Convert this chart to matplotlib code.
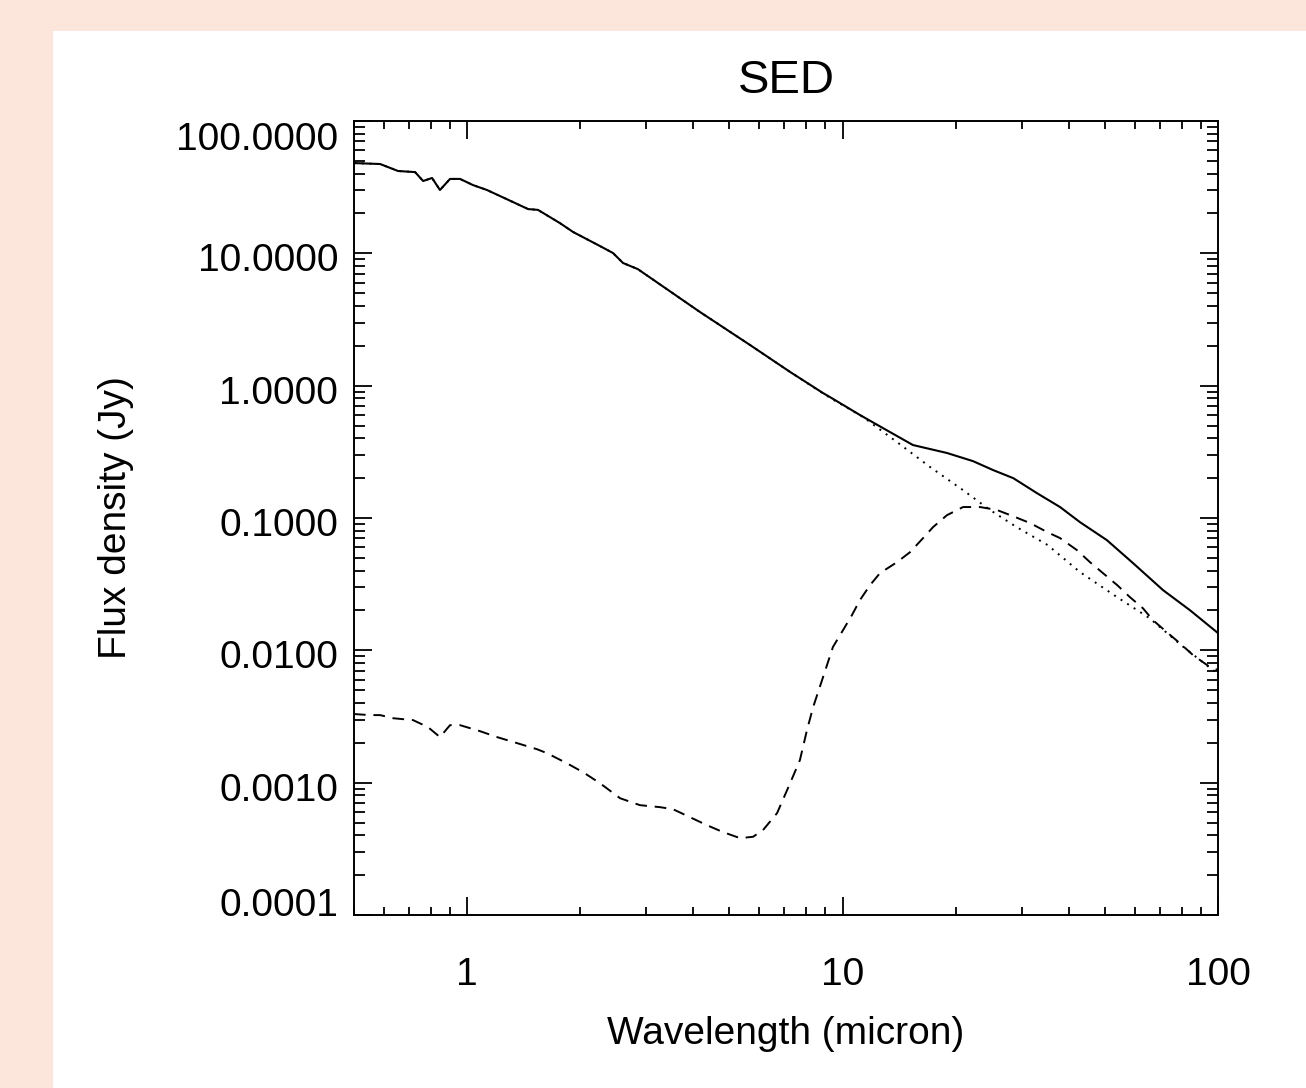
import numpy as np
import matplotlib
matplotlib.use('Agg')
import matplotlib.pyplot as plt
from matplotlib.patches import Rectangle
from matplotlib.ticker import LogLocator, NullFormatter
from matplotlib.transforms import ScaledTranslation

plt.rcParams['font.family'] = ['Liberation Sans', 'DejaVu Sans']

# total SED (solid)
total_wl = [0.50, 0.587, 0.655, 0.727, 0.764, 0.807, 0.847, 0.901, 0.958, 1.037,
            1.13, 1.326, 1.454, 1.545, 1.769, 1.916, 2.26, 2.448, 2.603, 2.85,
            4.174, 5.67, 7.25, 8.87, 9.26, 11.13, 13.38, 15.4, 18.97, 22.26,
            25.2, 28.5, 32.96, 37.96, 42.9, 50.6, 59.4, 71.4, 84.2, 100.0]
total_flux = [48.1, 47.3, 41.9, 41.1, 35.2, 37.1, 30.1, 36.5, 36.5, 32.8,
              30.1, 24.4, 21.6, 21.3, 16.9, 14.5, 11.35, 10.05, 8.45, 7.6,
              3.6, 2.03, 1.27, 0.88, 0.82, 0.6, 0.446, 0.356, 0.31, 0.269,
              0.23, 0.2, 0.154, 0.121, 0.093, 0.068, 0.0456, 0.0285, 0.0201, 0.0135]

# stellar photosphere (dotted)
star_wl = [0.50, 0.587, 0.655, 0.727, 0.764, 0.807, 0.847, 0.901, 0.958, 1.037,
           1.13, 1.326, 1.454, 1.545, 1.769, 1.916, 2.26, 2.448, 2.603, 2.85,
           4.174, 5.67, 7.25, 8.87, 9.26, 11.34, 13.96, 17.1, 20.9, 24.7,
           29.1, 35.2, 42.9, 53.9, 65.7, 80.9, 96.8, 100.0]
star_flux = [48.1, 47.3, 41.9, 41.1, 35.2, 37.1, 30.1, 36.5, 36.5, 32.8,
             30.1, 24.4, 21.6, 21.3, 16.9, 14.5, 11.35, 10.05, 8.45, 7.6,
             3.6, 2.03, 1.27, 0.875, 0.81, 0.58, 0.375, 0.243, 0.163, 0.115,
             0.0853, 0.0624, 0.039, 0.0252, 0.0175, 0.0106, 0.0071, 0.0067]

# dust emission (dashed)
dust_wl = [0.50, 0.552, 0.587, 0.635, 0.718, 0.787, 0.847, 0.901, 0.958, 1.083,
           1.202, 1.359, 1.536, 1.633, 1.846, 2.037, 2.26, 2.556, 2.888, 3.266,
           3.537, 3.926, 4.356, 4.806, 5.334, 5.777, 6.14, 6.695, 7.25, 7.7,
           8.04, 8.35, 8.82, 9.43, 10.03, 10.6, 11.13, 11.84, 12.58, 13.97,
           15.13, 16.39, 17.42, 18.97, 20.94, 23.25, 25.77, 28.5, 31.6, 35.1,
           37.96, 42.1, 45.6, 49.4, 53.9, 58.3, 63.1, 67.1, 73.1, 79.2,
           85.8, 95.2, 100.0]
dust_flux = [0.0033, 0.00324, 0.00324, 0.00307, 0.00297, 0.00263, 0.00221, 0.00272, 0.00272, 0.00245,
             0.00221, 0.00199, 0.00179, 0.00167, 0.0014, 0.0012, 0.00099, 0.000763, 0.000676, 0.000653,
             0.00063, 0.000548, 0.000477, 0.000423, 0.000381, 0.00039, 0.000438, 0.000589, 0.00099, 0.00148,
             0.00249, 0.00372, 0.00595, 0.0106, 0.0142, 0.0185, 0.024, 0.0311, 0.0383, 0.0464,
             0.0552, 0.0705, 0.0853, 0.105, 0.121, 0.121, 0.115, 0.103, 0.0915, 0.0782,
             0.0705, 0.0572, 0.0464, 0.0383, 0.0311, 0.0252, 0.0208, 0.0169, 0.0137, 0.0113,
             0.0092, 0.00747, 0.0071]

x_ticks = [1, 10, 100]
y_ticks = [0.0001, 0.001, 0.01, 0.1, 1, 10, 100]

W, H = 1306, 1088
fig = plt.figure(figsize=(W / 100, H / 100), dpi=100)
fig.patch.set_facecolor('#fce6dc')
fig.patches.append(Rectangle((53 / W, 0), 1, 1 - 31 / H, transform=fig.transFigure,
                             facecolor='white', edgecolor='none', zorder=-10))
ax = fig.add_axes([354 / W, 1 - 915 / H, (1218 - 354) / W, (915 - 121) / H])

ax.plot(star_wl, star_flux, color='black', lw=1.4, linestyle=(0, (1, 3)))
ax.plot(dust_wl, dust_flux, color='black', lw=1.4, linestyle=(0, (6, 4)))
ax.plot(total_wl, total_flux, color='black', lw=1.5)

ax.set_xscale('log')
ax.set_yscale('log')
ax.set_xlim(0.5, 100)
ax.set_ylim(1e-4, 100)

ax.set_xticks(x_ticks)
ax.set_xticklabels([str(v) for v in x_ticks])
ax.set_yticks(y_ticks)
ax.set_yticklabels(['%.4f' % v for v in y_ticks])
ax.xaxis.set_minor_locator(LogLocator(base=10, subs=np.arange(2, 10), numticks=20))
ax.yaxis.set_minor_locator(LogLocator(base=10, subs=np.arange(2, 10), numticks=20))
ax.xaxis.set_minor_formatter(NullFormatter())
ax.yaxis.set_minor_formatter(NullFormatter())

ax.tick_params(which='both', direction='in', top=True, right=True, width=1.3, labelsize=28)
ax.tick_params(which='major', length=13)
ax.tick_params(axis='x', which='minor', length=6)
ax.tick_params(axis='y', which='minor', length=8)
ax.tick_params(axis='x', which='major', pad=30)
ax.tick_params(axis='y', which='major', pad=11.5)
for s in ax.spines.values():
    s.set_linewidth(1.4)

# IDL keeps the end labels inside the axis range
shifts = {0.0001: 13, 100: -15}
for v, lab in zip(y_ticks, ax.get_yticklabels()):
    dy = shifts.get(v, -4)
    lab.set_transform(lab.get_transform() + ScaledTranslation(0, dy / 100, fig.dpi_scale_trans))

ax.set_title('SED', fontsize=34, pad=20)
ax.set_xlabel('Wavelength (micron)', fontsize=28, labelpad=17)
ax.set_ylabel('Flux density (Jy)', fontsize=28, labelpad=30)

fig.savefig('out.png', dpi=100)
